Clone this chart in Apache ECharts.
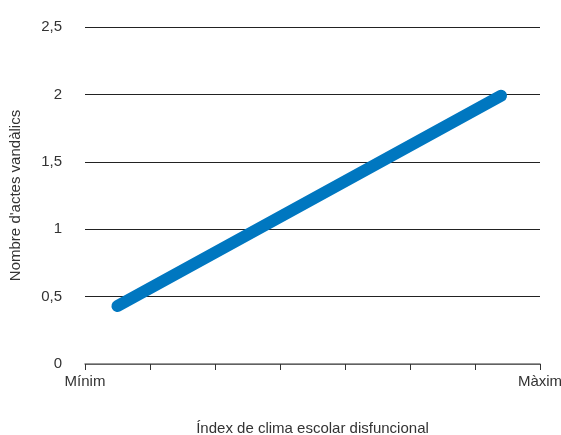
<!DOCTYPE html>
<html>
<head>
<meta charset="utf-8">
<script src="https://cdn.jsdelivr.net/npm/echarts@6/dist/echarts.min.js"></script>
<style>
  html, body { margin: 0; padding: 0; background: #fff; }
  #chart { width: 561px; height: 435px; }
</style>
</head>
<body>
<div id="chart"></div>
<script>
  // x position on the 0..7 index scale, y = number of vandal acts
  var xValues = [0.5, 6.4]
  var yValues = [0.43, 1.99]
  var xEndLabels = { 0: 'Mínim', 7: 'Màxim' }

  var chart = echarts.init(document.getElementById('chart'))
  chart.setOption({
    animation: false,
    textStyle: { fontFamily: 'Liberation Sans, Arial, sans-serif' },
    grid: { left: 85, right: 21, top: 27, bottom: 71, outerBoundsMode: 'none' },
    xAxis: {
      type: 'value',
      min: 0,
      max: 7,
      interval: 1,
      name: 'Índex de clima escolar disfuncional',
      nameLocation: 'middle',
      nameGap: 57,
      nameTextStyle: { color: '#333', fontSize: 15 },
      axisLine: { lineStyle: { color: '#777', width: 1.5 } },
      axisTick: { length: 6, lineStyle: { color: '#333' } },
      splitLine: { show: false },
      axisLabel: {
        color: '#333',
        fontSize: 15,
        margin: 10,
        formatter: function (v) { return xEndLabels[v] || '' }
      }
    },
    yAxis: {
      type: 'value',
      min: 0,
      max: 2.5,
      interval: 0.5,
      name: "Nombre d'actes vandàlics",
      nameLocation: 'middle',
      nameGap: 62,
      nameTextStyle: { color: '#333', fontSize: 15 },
      axisLine: { show: false },
      axisTick: { show: false },
      axisLabel: {
        color: '#333',
        fontSize: 15,
        margin: 23,
        formatter: function (v) { return String(v).replace('.', ',') }
      },
      splitLine: { lineStyle: { color: '#222', width: 1 } }
    },
    series: [{
      type: 'line',
      data: xValues.map(function (x, i) { return [x, yValues[i]] }),
      symbol: 'none',
      lineStyle: { color: '#0077c0', width: 12, cap: 'round' }
    }]
  })
</script>
</body>
</html>
